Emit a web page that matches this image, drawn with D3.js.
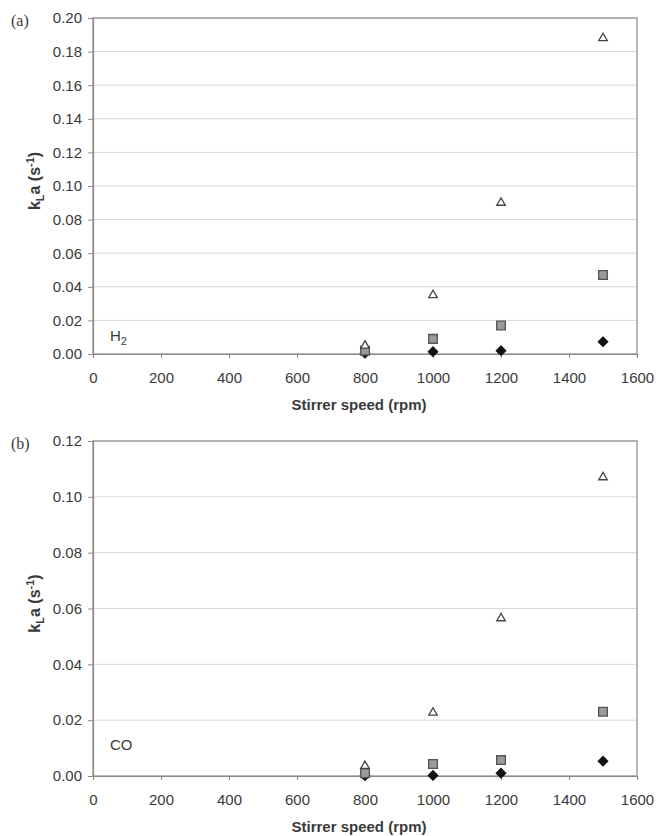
<!DOCTYPE html>
<html>
<head>
<meta charset="utf-8">
<script src="https://cdn.jsdelivr.net/npm/d3@7"></script>
<style>
  body { margin: 0; background: #fff; }
  text { font-family: "Liberation Sans", Arial, sans-serif; fill: #3a3a3a; }
</style>
</head>
<body>
<svg id="chart" width="657" height="836"></svg>
<script>
const speeds = [800, 1000, 1200, 1500]
const xTicks = [0, 200, 400, 600, 800, 1000, 1200, 1400, 1600]

// panel (a) H2
const h2Triangle = [0.005, 0.035, 0.090, 0.188]
const h2Square = [0.002, 0.009, 0.017, 0.047]
const h2Diamond = [0.0005, 0.0014, 0.002, 0.0073]

// panel (b) CO
const coTriangle = [0.0036, 0.0227, 0.0565, 0.107]
const coSquare = [0.001, 0.0043, 0.0057, 0.023]
const coDiamond = [0.0001, 0.0002, 0.001, 0.0053]

const svg = d3.select('#chart')
const left = 93
const right = 637

const symTri = d3.symbol().type(d3.symbolTriangle2).size(52)
const symSq = d3.symbol().type(d3.symbolSquare).size(76)
const symDia = d3.symbol().type(d3.symbolDiamond2).size(56)

function drawPanel ({ top, bottom, yMax, yStep, letter, gas, series, gasY }) {
  const g = svg.append('g')
  const x = d3.scaleLinear().domain([0, 1600]).range([left, right])
  const y = d3.scaleLinear().domain([0, yMax]).range([bottom, top])
  const yTicks = d3.range(0, yMax + yStep / 2, yStep)

  // grid
  g.selectAll('line.grid')
    .data(yTicks.slice(1))
    .join('line')
    .attr('x1', left).attr('x2', right)
    .attr('y1', d => y(d)).attr('y2', d => y(d))
    .attr('stroke', '#d8d8d8')
    .attr('stroke-width', 1)

  // frame
  g.append('rect')
    .attr('x', left).attr('y', top)
    .attr('width', right - left).attr('height', bottom - top)
    .attr('fill', 'none')
    .attr('stroke', '#8a8a8a')
    .attr('stroke-width', 1.2)

  const xAxis = g.append('g')
    .attr('transform', `translate(0,${bottom})`)
    .call(d3.axisBottom(x).tickValues(xTicks).tickSize(4).tickPadding(14).tickFormat(d3.format('d')))
  const yAxis = g.append('g')
    .attr('transform', `translate(${left},0)`)
    .call(d3.axisLeft(y).tickValues(yTicks).tickSize(5).tickPadding(6).tickFormat(d3.format('.2f')))

  for (const ax of [xAxis, yAxis]) {
    ax.select('.domain').attr('stroke', '#8a8a8a').attr('stroke-width', 1.2)
    ax.selectAll('.tick line').attr('stroke', '#8a8a8a')
    ax.selectAll('.tick text')
      .attr('fill', '#3a3a3a')
      .style('font-size', '15px')
      .style('font-family', '"Liberation Sans", Arial, sans-serif')
  }

  // markers
  const markers = [
    { values: series[2], sym: symDia, fill: '#111', stroke: '#111' },
    { values: series[1], sym: symSq, fill: '#9a9a9a', stroke: '#555' },
    { values: series[0], sym: symTri, fill: '#fff', stroke: '#444' }
  ]
  markers.forEach(m => {
    g.selectAll(null)
      .data(speeds.map((s, i) => [s, m.values[i]]))
      .join('path')
      .attr('d', m.sym)
      .attr('transform', d => `translate(${x(d[0])},${y(d[1])})`)
      .attr('fill', m.fill)
      .attr('stroke', m.stroke)
      .attr('stroke-width', 1.3)
  })

  // titles
  g.append('text')
    .attr('x', (left + right) / 2 - 6)
    .attr('y', bottom + 56)
    .attr('text-anchor', 'middle')
    .style('font-size', '15px')
    .style('font-weight', 'bold')
    .text('Stirrer speed (rpm)')

  const yt = g.append('text')
    .attr('transform', `translate(40,${(top + bottom) / 2 - ((bottom - top) * 0.015)}) rotate(-90)`)
    .attr('text-anchor', 'middle')
    .style('font-size', '16px')
    .style('font-weight', 'bold')
  yt.append('tspan').text('k')
  yt.append('tspan').attr('dy', 4).style('font-size', '11px').text('L')
  yt.append('tspan').attr('dy', -4).text('a (s')
  yt.append('tspan').attr('dy', -6).style('font-size', '11px').text('-1')
  yt.append('tspan').attr('dy', 6).text(')')

  g.append('text')
    .attr('x', 11).attr('y', top + 8)
    .style('font-family', '"Liberation Serif", "Times New Roman", serif')
    .style('font-size', '16px')
    .text(letter)

  const gt = g.append('text')
    .attr('x', 110).attr('y', gasY)
    .style('font-size', '15px')
  if (gas === 'H2') {
    gt.append('tspan').text('H')
    gt.append('tspan').attr('dy', 4).style('font-size', '11px').text('2')
  } else {
    gt.text(gas)
  }
}

drawPanel({
  top: 18, bottom: 354, yMax: 0.20, yStep: 0.02,
  letter: '(a)', gas: 'H2', gasY: 341,
  series: [h2Triangle, h2Square, h2Diamond]
})

drawPanel({
  top: 441, bottom: 776, yMax: 0.12, yStep: 0.02,
  letter: '(b)', gas: 'CO', gasY: 750,
  series: [coTriangle, coSquare, coDiamond]
})
</script>
</body>
</html>
